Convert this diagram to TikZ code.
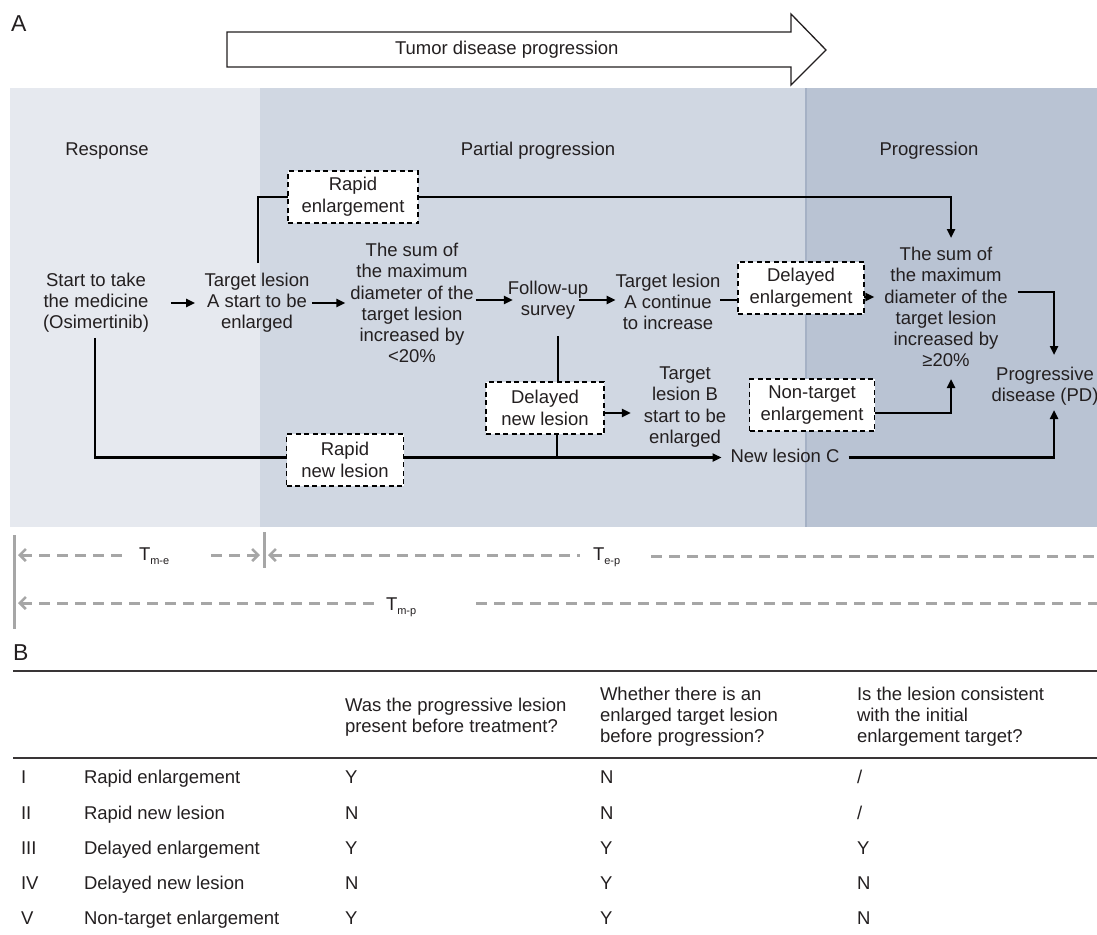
\documentclass[tikz,border=0pt]{standalone}
\usepackage{fontspec}
\setmainfont{Liberation Sans}
\usetikzlibrary{arrows.meta,calc}
\definecolor{txt}{RGB}{35,31,32}
\definecolor{bgR}{RGB}{230,233,239}
\definecolor{bgP}{RGB}{208,215,226}
\definecolor{bgG}{RGB}{185,195,211}
\definecolor{bgLine}{RGB}{165,177,197}
\definecolor{dimc}{RGB}{166,166,166}
\begin{document}
\begin{tikzpicture}[x=1pt,y=-1pt,
  every node/.style={text=txt,font=\fontsize{18.5}{21.2}\selectfont,inner sep=0pt,outer sep=0pt},
  lbl/.style={align=center},
  dbox/.style={draw=black,fill=white,dash pattern=on 5pt off 3.5pt,line width=1.9pt,align=center,minimum height=52pt,font=\fontsize{18.5}{22}\selectfont},
  ln/.style={draw=black,line width=2.9pt},
  arr/.style={ln,-{Triangle[length=9pt,width=8pt]}},
  dim/.style={draw=dimc,line width=3pt,dash pattern=on 10.5pt off 7.5pt},
  dimbar/.style={draw=dimc,line width=3pt},
  barbL/.style={{Straight Barb[length=6pt,width=12pt,line width=2.6pt]}-},
  barbR/.style={-{Straight Barb[length=6pt,width=12pt,line width=2.6pt]}},
  rulel/.style={draw=txt!90,line width=1.6pt},
  big/.style={font=\fontsize{23}{23}\selectfont},
  cell/.style={anchor=base west},
]
\useasboundingbox (0,0) rectangle (1097,934);

% background panels
\fill[bgR] (10,88) rectangle (260,527);
\fill[bgP] (260,88) rectangle (806,527);
\fill[bgG] (806,88) rectangle (1097,527);
\draw[bgLine,line width=1.5pt] (806,88) -- (806,527);

% panel labels
\node[big,anchor=base west] (lA) at (11,31.5) {A};
\node[big,anchor=base west] (lB) at (13,660) {B};

% top arrow
\draw[line width=1.3pt,draw=txt,fill=white] (227,32) -- (791,32) -- (791,14) -- (826,50) -- (791,85) -- (791,67) -- (227,67) -- cycle;
\node[anchor=west] (tdp) at (395,50) {Tumor disease progression};

% stage titles
\node[anchor=base] (tResp) at (107,155.6) {Response};
\node[anchor=base] (tPart) at (538,155.6) {Partial progression};
\node[anchor=base] (tProg) at (929,155.6) {Progression};

% flow nodes
\node[lbl] (start) at (96,303) {Start to take\\the medicine\\(Osimertinib)};
\node[lbl] (tA) at (257,303) {Target lesion\\A start to be\\enlarged};
\node[lbl] (sum1) at (412,303) {The sum of\\the maximum\\diameter of the\\target lesion\\increased by\\<20\%};
\node[lbl] (fu) at (548,300) {Follow-up\\survey};
\node[lbl] (tAc) at (668,302) {Target lesion\\A continue\\to increase};
\node[lbl] (sum2) at (946,307) {The sum of\\the maximum\\diameter of the\\target lesion\\increased by\\≥20\%};
\node[lbl] (pd) at (1045,386) {Progressive\\disease (PD)};
\node[lbl] (tB) at (685,407) {Target\\lesion B\\start to be\\enlarged};
\node[anchor=base] (nlc) at (785,462.6) {New lesion C};
\coordinate (hy) at (0,457.5);

% connectors
\draw[arr,shorten <=22pt,shorten >=9.5pt] (start.east) -- (tA.west);
\draw[arr,shorten <=2.5pt,shorten >=5pt] (tA.east) -- (tA.east -| sum1.west);
\draw[arr] ($(sum1.east |- fu)+(2,0)$) -- ($(fu.west)+(5,0)$);
\draw[arr] ($(fu.east)+(-9,0)$) -- (fu.east -| tAc.west);
\draw[ln] (tAc.east |- fu) -- (fu -| 738,0);
\draw[ln] ($(tA.north)+(1,-10)$) |- (353,197);
\draw[arr] (353,197) -| (951,238);
\draw[arr] (864,297) -- ($(sum2.west |- 0,297)+(-10,0)$);
\draw[arr] ($(sum2.east |- 0,292)+(10,0)$) -| (1054,355);
\coordinate (fuB) at ($(fu.south)+(10,17)$);
\draw[ln] (fuB) -- (fuB |- 0,382);
\draw[arr] (604,413) -- ($(tB.west |- 0,413)+(-13,0)$);
\draw[ln] (557,434) -- (557,0 |- hy);
\draw[ln] ($(start.south)+(-1,5)$) |- (345,0 |- hy);
\draw[arr] (345,0 |- hy) -- ($(nlc.west |- hy)+(-9,0)$);
\draw[arr] (875,413) -| (951,379);
\draw[arr] ($(nlc.east |- hy)+(9,0)$) -| (1054,410);

% dashed boxes
\node[dbox,minimum width=130pt] (re) at (353,197) {Rapid\\enlargement};
\node[dbox,minimum width=126pt] (de) at (801,288) {Delayed\\enlargement};
\node[dbox,minimum width=117pt] (rn) at (345,460) {Rapid\\new lesion};
\node[dbox,minimum width=118pt] (dn) at (545,408) {Delayed\\new lesion};
\node[dbox,minimum width=125pt] (nt) at (812,405) {Non-target\\enlargement};

% time spans
\node[anchor=base west] (tme) at (139,560) {T\raisebox{-4pt}{\fontsize{11}{11}\selectfont m-e}};
\node[anchor=base west] (tep) at (593,560) {T\raisebox{-4pt}{\fontsize{11}{11}\selectfont e-p}};
\node[anchor=base west] (tmp) at (386,610) {T\raisebox{-4pt}{\fontsize{11}{11}\selectfont m-p}};
\coordinate (b1) at (14,555);
\coordinate (b2) at (264,555);
\coordinate (b3) at (14,603);
\coordinate (e1) at (1097,556);
\coordinate (e2) at (1097,603);
\draw[dimbar] (14,535) -- (14,629);
\draw[dimbar] (264,532) -- (264,568);
\draw[dim,barbL] ($(b1)+(4,0)$) -- ($(tme.west |- b1)+(-13,0)$);
\draw[dim,barbR] ($(tme.east |- b1)+(42,0)$) -- ($(b2)+(-4,0)$);
\draw[dim,barbL] ($(b2)+(4,0)$) -- ($(tep.west |- b1)+(-13,0)$);
\draw[dim] ($(tep.east |- e1)+(31,0)$) -- (e1);
\draw[dim,barbL] ($(b3)+(4,0)$) -- ($(tmp.west |- b3)+(-9,0)$);
\draw[dim] ($(tmp.east |- e2)+(60,0)$) -- (e2);

% table
\draw[rulel] (13,671) -- (1097,671);
\draw[rulel] (13,758) -- (1097,758);
\node[anchor=west,align=left] (h3) at (345,717) {Was the progressive lesion\\present before treatment?};
\node[anchor=west,align=left] (h4) at (600,717) {Whether there is an\\enlarged target lesion\\before progression?};
\node[anchor=west,align=left] (h5) at (857,717) {Is the lesion consistent\\with the initial\\enlargement target?};

\node[cell] (r1a) at (21,783) {I};
\node[cell] (r1b) at (84,783) {Rapid enlargement};
\node[cell] (r1c) at (345,783) {Y};
\node[cell] (r1d) at (600,783) {N};
\node[cell] (r1e) at (857,783) {/};

\node[cell] (r2a) at (21,819) {II};
\node[cell] (r2b) at (84,819) {Rapid new lesion};
\node[cell] (r2c) at (345,819) {N};
\node[cell] (r2d) at (600,819) {N};
\node[cell] (r2e) at (857,819) {/};

\node[cell] (r3a) at (21,854) {III};
\node[cell] (r3b) at (84,854) {Delayed enlargement};
\node[cell] (r3c) at (345,854) {Y};
\node[cell] (r3d) at (600,854) {Y};
\node[cell] (r3e) at (857,854) {Y};

\node[cell] (r4a) at (21,889) {IV};
\node[cell] (r4b) at (84,889) {Delayed new lesion};
\node[cell] (r4c) at (345,889) {N};
\node[cell] (r4d) at (600,889) {Y};
\node[cell] (r4e) at (857,889) {N};

\node[cell] (r5a) at (21,924) {V};
\node[cell] (r5b) at (84,924) {Non-target enlargement};
\node[cell] (r5c) at (345,924) {Y};
\node[cell] (r5d) at (600,924) {Y};
\node[cell] (r5e) at (857,924) {N};
\end{tikzpicture}
\end{document}
